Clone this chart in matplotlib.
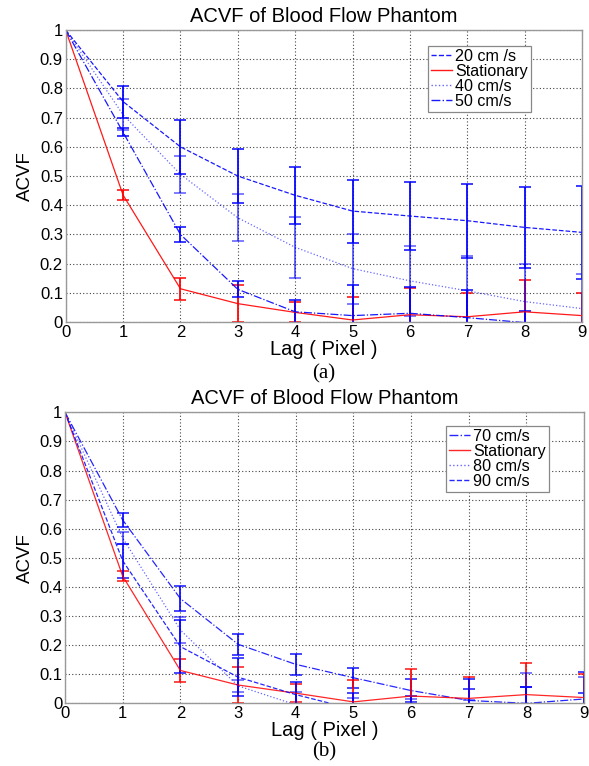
import matplotlib
matplotlib.use("Agg")
import matplotlib.pyplot as plt
from matplotlib.lines import Line2D

plt.rcParams["font.family"] = ["Liberation Sans", "DejaVu Sans"]

lags = [0, 1, 2, 3, 4, 5, 6, 7, 8, 9]
y_ticks = [0, 0.1, 0.2, 0.3, 0.4, 0.5, 0.6, 0.7, 0.8, 0.9, 1]
y_tick_labels = ["0", "0.1", "0.2", "0.3", "0.4", "0.5", "0.6", "0.7", "0.8", "0.9", "1"]

# (a) 20 / 40 / 50 cm/s
v20 = [1, 0.755, 0.60, 0.50, 0.434, 0.38, 0.363, 0.347, 0.324, 0.307]
e20 = [0, 0.055, 0.092, 0.091, 0.098, 0.108, 0.115, 0.127, 0.138, 0.16]
stat_a = [1, 0.435, 0.114, 0.063, 0.033, 0.007, 0.025, 0.018, 0.035, 0.022]
estat_a = [0, 0.018, 0.038, 0.064, 0.034, 0.078, 0.093, 0.08, 0.108, 0.078]
v40 = [1, 0.71, 0.506, 0.357, 0.256, 0.183, 0.141, 0.107, 0.07, 0.046]
e40 = [0, 0.054, 0.064, 0.08, 0.104, 0.12, 0.12, 0.118, 0.13, 0.12]
v50 = [1, 0.65, 0.30, 0.112, 0.035, 0.022, 0.03, 0.015, -0.002, -0.05]
e50 = [0, 0.014, 0.025, 0.027, 0.04, 0.104, 0.09, 0.093, 0.041, 0.03]

# (b) 70 / 80 / 90 cm/s
v70 = [1, 0.63, 0.36, 0.203, 0.134, 0.088, 0.044, 0.01, 0.0, 0.015]
e70 = [0, 0.025, 0.042, 0.036, 0.037, 0.035, 0.038, 0.04, 0.055, 0.094]
stat_b = [1, 0.437, 0.113, 0.063, 0.035, 0.005, 0.025, 0.017, 0.03, 0.02]
estat_b = [0, 0.018, 0.039, 0.063, 0.032, 0.075, 0.092, 0.074, 0.11, 0.08]
v80 = [1, 0.568, 0.252, 0.06, -0.005, -0.04, -0.06, -0.05, -0.05, -0.03]
e80 = [0, 0.02, 0.046, 0.02, 0.045, 0.059, 0.076, 0.061, 0.155, 0.12]
v90 = [1, 0.49, 0.195, 0.09, 0.03, -0.02, -0.01, -0.03, -0.04, -0.02]
e90 = [0, 0.058, 0.09, 0.066, 0.044, 0.054, 0.035, 0.112, 0.097, 0.056]

BLUE = "#0000ff"
RED = "#ff0000"


def plot_panel(ax, series, legend_anchor, tag, tag_y):
    # series: (label, values, errors, color, linestyle, alpha)
    handles = []
    for label, vals, errs, color, ls, alpha in series:
        ax.errorbar(lags, vals, yerr=errs, color=color, linestyle=ls, linewidth=0.9,
                    elinewidth=1.4, capsize=4, capthick=1.2, alpha=alpha)
        handles.append(Line2D([0], [0], color=color, linestyle=ls, linewidth=1.0, alpha=alpha))

    ax.set_xlim(0, 9)
    ax.set_ylim(0, 1)
    ax.set_xticks(lags)
    ax.set_yticks(y_ticks)
    ax.set_yticklabels(y_tick_labels)
    ax.tick_params(direction="in", length=0, labelsize=12, pad=2)
    ax.grid(True, color="#444444", linestyle=(0, (1, 2)), linewidth=0.8)
    for sp in ax.spines.values():
        sp.set_color("#999999")
        sp.set_linewidth(1.0)

    ax.set_title("ACVF of Blood Flow Phantom", fontsize=14.5, pad=6)
    ax.set_xlabel("Lag ( Pixel )", fontsize=14.5, labelpad=0)
    ax.set_ylabel("ACVF", fontsize=13.5, labelpad=4)

    leg = ax.legend(handles, [s[0] for s in series], loc="upper right",
                    bbox_to_anchor=legend_anchor, borderaxespad=0, fontsize=11.6,
                    labelspacing=0.0, borderpad=0.2, handletextpad=0.2,
                    handlelength=1.3, fancybox=False, framealpha=1)
    leg.get_frame().set_edgecolor("#888888")
    leg.get_frame().set_linewidth(0.9)

    ax.text(0.5, tag_y, tag, transform=ax.transAxes, ha="center", va="center",
            fontsize=15, family=["Liberation Serif", "DejaVu Serif"])


fig = plt.figure(figsize=(5.89, 7.66), dpi=100)
ax1 = fig.add_axes([0.1115, 0.5796, 0.8766, 0.3812])
ax2 = fig.add_axes([0.1104, 0.0818, 0.8812, 0.3799])

plot_panel(ax1, [
    ("20 cm /s", v20, e20, BLUE, "--", 0.9),
    ("Stationary", stat_a, estat_a, RED, "-", 0.9),
    ("40 cm/s", v40, e40, BLUE, ":", 0.6),
    ("50 cm/s", v50, e50, BLUE, "-.", 0.9),
], (0.901, 0.946), "(a)", -0.177)

plot_panel(ax2, [
    ("70 cm/s", v70, e70, BLUE, "-.", 0.85),
    ("Stationary", stat_b, estat_b, RED, "-", 0.85),
    ("80 cm/s", v80, e80, BLUE, ":", 0.6),
    ("90 cm/s", v90, e90, BLUE, "--", 0.85),
], (0.933, 0.954), "(b)", -0.167)

fig.savefig("out.png", dpi=100)
